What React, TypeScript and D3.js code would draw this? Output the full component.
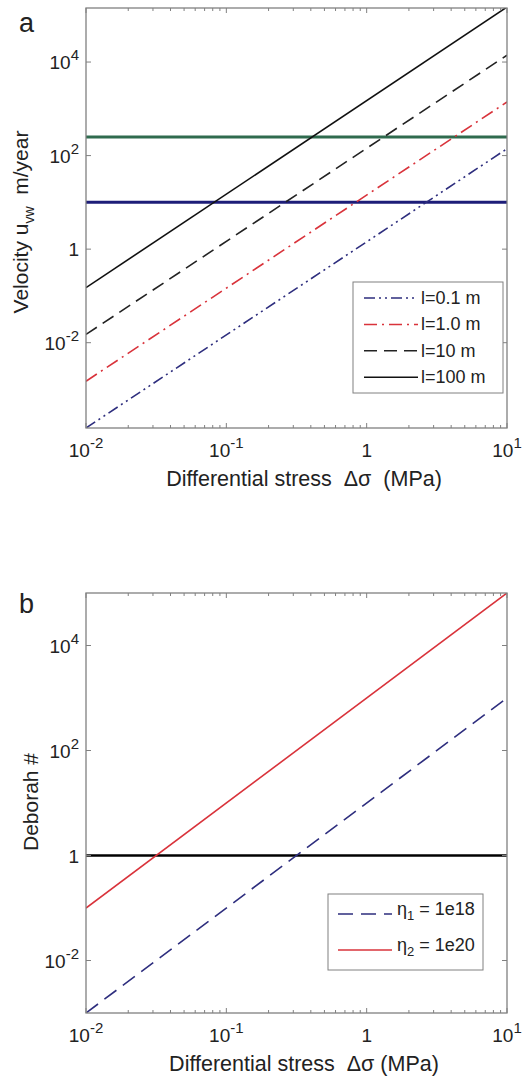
import * as d3 from 'd3';

const FONT = 'Liberation Sans, Arial, Helvetica, sans-serif';
const W = 525,
  H = 1078;

// shared x extent (MPa)
const STRESS = [0.01, 10];
const X_TICKS = [0.01, 0.1, 1, 10];

// panel a: velocity lines, value at the two ends of the stress range
const LENGTH_LABELS = ['l=0.1 m', 'l=1.0 m', 'l=10 m', 'l=100 m'];
const VEL_AT_MIN = [1.5e-4, 1.5e-3, 1.5e-2, 0.15];
const VEL_AT_MAX = [140, 1400, 14000, 150000];
const VEL_COLORS = ['#2e2e7e', '#d9333b', '#222222', '#111111'];
const VEL_DASH = ['11,4,2,4,2,4', '13,5,2,5', '13,7', null];
const VEL_HLINES = [250, 10];
const VEL_HCOLORS = ['#2f6b4e', '#1d1d78'];
const VEL_Y_DOMAIN = [1.5e-4, 1.43e5];
const VEL_Y_TICKS = [1e-2, 1, 1e2, 1e4];

// panel b: Deborah number
const ETA_LABELS = [
  ['1', '1e18'],
  ['2', '1e20'],
];
const DEB_AT_MIN = [1e-3, 0.1];
const DEB_AT_MAX = [1e3, 1e5];
const DEB_COLORS = ['#2e2e7e', '#d9333b'];
const DEB_DASH = ['15,8', null];
const DEB_HLINE = 1;
const DEB_Y_DOMAIN = [1e-3, 1e5];
const DEB_Y_TICKS = [1e-2, 1, 1e2, 1e4];

const LEFT = 86,
  RIGHT = 507;
const FRAME = '#808080';

const TickLabel = ({ v, x, y, anchor }) => {
  const e = Math.round(Math.log10(v));
  if (e === 0) {
    return (
      <text x={x} y={y} textAnchor={anchor} fontSize={19} fontFamily={FONT} fill="#222">
        1
      </text>
    );
  }
  return (
    <text x={x} y={y} textAnchor={anchor} fontSize={19} fontFamily={FONT} fill="#222">
      <tspan>10</tspan>
      <tspan dy={-9} fontSize={15}>
        {e}
      </tspan>
    </text>
  );
};

const LogFrame = ({ id, xScale, yScale, yTicks, top, bottom, children }) => {
  const minor = xScale.ticks();
  const isMajor = v => Math.abs(Math.log10(v) - Math.round(Math.log10(v))) < 1e-6;
  return (
    <g>
      <defs>
        <clipPath id={id}>
          <rect x={LEFT} y={top} width={RIGHT - LEFT} height={bottom - top} />
        </clipPath>
      </defs>
      <g clipPath={`url(#${id})`}>{children}</g>
      <rect
        x={LEFT}
        y={top}
        width={RIGHT - LEFT}
        height={bottom - top}
        fill="none"
        stroke={FRAME}
        strokeWidth={1.3}
      />
      {minor.map((v, i) => {
        const len = isMajor(v) ? 5 : 3;
        const x = xScale(v);
        return (
          <g key={i} stroke={FRAME} strokeWidth={1}>
            <line x1={x} x2={x} y1={bottom} y2={bottom - len} />
            <line x1={x} x2={x} y1={top} y2={top + len} />
          </g>
        );
      })}
      {yTicks.map((v, i) => {
        const y = yScale(v);
        return (
          <g key={i} stroke={FRAME} strokeWidth={1}>
            <line x1={LEFT} x2={LEFT + 5} y1={y} y2={y} />
            <line x1={RIGHT} x2={RIGHT - 5} y1={y} y2={y} />
          </g>
        );
      })}
      {yTicks.map((v, i) => (
        <TickLabel key={i} v={v} x={79} y={yScale(v) + 7} anchor="end" />
      ))}
      {X_TICKS.map((v, i) => (
        <TickLabel key={i} v={v} x={xScale(v)} y={bottom + 29} anchor="middle" />
      ))}
    </g>
  );
};

export default function App() {
  const xScale = d3.scaleLog().domain(STRESS).range([LEFT, RIGHT]);
  const yVel = d3.scaleLog().domain(VEL_Y_DOMAIN).range([428, 8]);
  const yDeb = d3.scaleLog().domain(DEB_Y_DOMAIN).range([1013, 593]);

  const lineVel = d3
    .line()
    .x(d => xScale(d[0]))
    .y(d => yVel(d[1]));
  const lineDeb = d3
    .line()
    .x(d => xScale(d[0]))
    .y(d => yDeb(d[1]));

  const legendA = { x: 353, y: 282, w: 150, h: 111, row0: 298, step: 26.4 };
  const legendB = { x: 328, y: 894, w: 155, h: 76, row0: 912, step: 36 };

  return (
    <svg
      width={W}
      height={H}
      style={{ position: 'absolute', left: 0, top: 0, background: '#fff' }}
    >
      {/* panel a */}
      <text x={19} y={32} fontSize={27} fontFamily={FONT} fill="#222">
        a
      </text>
      <LogFrame id="clipA" xScale={xScale} yScale={yVel} yTicks={VEL_Y_TICKS} top={8} bottom={428}>
        {VEL_HLINES.map((v, i) => (
          <line
            key={i}
            x1={LEFT}
            x2={RIGHT}
            y1={yVel(v)}
            y2={yVel(v)}
            stroke={VEL_HCOLORS[i]}
            strokeWidth={3}
          />
        ))}
        {LENGTH_LABELS.map((name, i) => (
          <path
            key={name}
            d={lineVel([
              [STRESS[0], VEL_AT_MIN[i]],
              [STRESS[1], VEL_AT_MAX[i]],
            ])}
            fill="none"
            stroke={VEL_COLORS[i]}
            strokeWidth={1.6}
            strokeDasharray={VEL_DASH[i] ?? undefined}
          />
        ))}
      </LogFrame>
      <g>
        <rect
          x={legendA.x}
          y={legendA.y}
          width={legendA.w}
          height={legendA.h}
          fill="#fff"
          stroke={FRAME}
          strokeWidth={1}
        />
        {LENGTH_LABELS.map((name, i) => {
          const y = legendA.row0 + i * legendA.step;
          return (
            <g key={name}>
              <line
                x1={364}
                x2={418}
                y1={y}
                y2={y}
                stroke={VEL_COLORS[i]}
                strokeWidth={1.5}
                strokeDasharray={VEL_DASH[i] ?? undefined}
              />
              <text x={421} y={y + 6} fontSize={18} fontFamily={FONT} fill="#222">
                {name}
              </text>
            </g>
          );
        })}
      </g>
      <text
        transform="translate(28,222) rotate(-90)"
        textAnchor="middle"
        fontSize={21}
        fontFamily={FONT}
        fill="#222"
      >
        <tspan>Velocity u</tspan>
        <tspan dy={6} fontSize={14}>
          vw
        </tspan>
        <tspan dy={-6}>{'\u00a0\u00a0m/year'}</tspan>
      </text>
      <text x={304} y={486} textAnchor="middle" fontSize={21.5} fontFamily={FONT} fill="#222">
        {'Differential stress \u00a0\u0394\u03c3 \u00a0(MPa)'}
      </text>

      {/* panel b */}
      <text x={19} y={613} fontSize={27} fontFamily={FONT} fill="#222">
        b
      </text>
      <LogFrame id="clipB" xScale={xScale} yScale={yDeb} yTicks={DEB_Y_TICKS} top={593} bottom={1013}>
        <line
          x1={LEFT}
          x2={RIGHT}
          y1={yDeb(DEB_HLINE)}
          y2={yDeb(DEB_HLINE)}
          stroke="#000"
          strokeWidth={2.6}
        />
        {ETA_LABELS.map((lab, i) => (
          <path
            key={i}
            d={lineDeb([
              [STRESS[0], DEB_AT_MIN[i]],
              [STRESS[1], DEB_AT_MAX[i]],
            ])}
            fill="none"
            stroke={DEB_COLORS[i]}
            strokeWidth={1.6}
            strokeDasharray={DEB_DASH[i] ?? undefined}
          />
        ))}
      </LogFrame>
      <g>
        <rect
          x={legendB.x}
          y={legendB.y}
          width={legendB.w}
          height={legendB.h}
          fill="#fff"
          stroke={FRAME}
          strokeWidth={1}
        />
        {ETA_LABELS.map((lab, i) => {
          const y = legendB.row0 + i * legendB.step;
          return (
            <g key={i}>
              <line
                x1={338}
                x2={392}
                y1={y + 2}
                y2={y + 2}
                stroke={DEB_COLORS[i]}
                strokeWidth={1.6}
                strokeDasharray={DEB_DASH[i] ?? undefined}
              />
              <text x={397} y={y + 3} fontSize={18} fontFamily={FONT} fill="#222">
                <tspan>{'\u03b7'}</tspan>
                <tspan dy={5} fontSize={13}>
                  {lab[0]}
                </tspan>
                <tspan dy={-5}>{` = ${lab[1]}`}</tspan>
              </text>
            </g>
          );
        })}
      </g>
      <text
        transform="translate(38,802) rotate(-90)"
        textAnchor="middle"
        fontSize={21}
        fontFamily={FONT}
        fill="#222"
      >
        Deborah #
      </text>
      <text x={304} y={1071} textAnchor="middle" fontSize={21.5} fontFamily={FONT} fill="#222">
        {'Differential stress \u00a0\u0394\u03c3 (MPa)'}
      </text>
    </svg>
  );
}
